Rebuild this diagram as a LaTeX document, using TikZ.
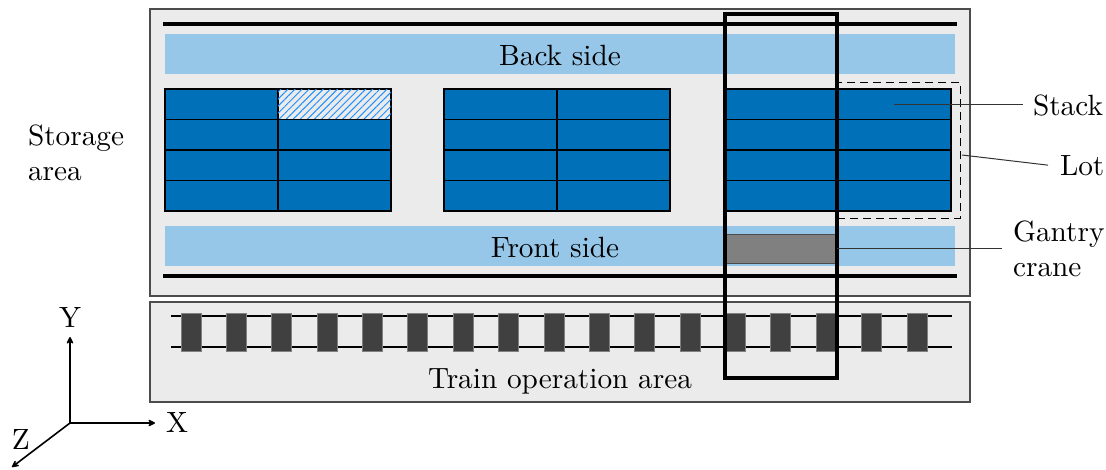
\documentclass[tikz,border=0pt]{standalone}
\usepackage{fontspec}
\setmainfont{lmroman10-regular.otf}
\usetikzlibrary{patterns.meta,arrows.meta}
\definecolor{boxgray}{HTML}{EBEBEB}
\definecolor{band}{HTML}{96C6E8}
\definecolor{stackblue}{HTML}{0070B8}
\definecolor{hatch}{HTML}{1E90FF}
\definecolor{sleeper}{HTML}{404040}
\definecolor{cranegray}{HTML}{808080}
\tikzset{
  every node/.style={outer sep=0pt},
  lbl/.style={font=\fontsize{29.3}{35.3}\selectfont, inner sep=0pt, text=black},
  area/.style={draw=black!70, fill=boxgray, line width=1.1pt, anchor=north west, inner sep=0pt},
  bandbox/.style={fill=band, anchor=north west, inner sep=0pt, minimum width=790pt, minimum height=40pt},
  cell/.style={draw=black, fill=stackblue, line width=1.1pt, anchor=north west, inner sep=0pt, minimum width=113pt, minimum height=30.5pt},
  hatchcell/.style={cell, fill=boxgray, postaction={pattern={Lines[angle=45,distance=5pt,line width=1pt]}, pattern color=hatch}},
  sleeperbox/.style={fill=sleeper, draw=black!50, line width=0.8pt, anchor=north west, inner sep=0pt, minimum width=20pt, minimum height=38pt},
  thickline/.style={line width=4pt},
  rail/.style={line width=1.8pt},
  leader/.style={line width=1pt, draw=black!80},
  axis/.style={-{Stealth[length=9pt,width=9pt,inset=3.5pt,round]}, line width=1.6pt},
}
\begin{document}
\begin{tikzpicture}[x=1pt,y=-1pt]
\useasboundingbox (0,0) rectangle (1106,469);
% areas
\node[area, minimum width=820pt, minimum height=287pt] (storage) at (150,9) {};
\node[area, minimum width=820pt, minimum height=100pt] (train) at (150,302) {};
% bands
\node[bandbox] (back) at (165,34) {};
\node[bandbox] (front) at (165,226) {};
\node[lbl, anchor=base] (backlbl) at (560,65) {Back side};
\node[lbl, anchor=base] (frontlbl) at (555,257) {Front side};
% thick crane rails
\coordinate (tl) at (163,24); \coordinate (tr) at (957,24);
\coordinate (bl) at (163,276); \coordinate (br) at (957,276);
\draw[thickline] (tl) -- (tr);
\draw[thickline] (bl) -- (br);
% stacks
\foreach \gx [count=\g] in {165,444,725}{
  \foreach \c in {0,1}{
    \foreach \r in {0,...,3}{
      \ifnum\g\c\r=110 \def\cs{hatchcell}\else\def\cs{cell}\fi
      \node[\cs] (c\g\c\r) at (\gx+\c*113, 89+\r*30.5) {};
    }
  }
}
% lot
\node[draw, dashed, line width=1pt, dash pattern=on 8pt off 5pt, anchor=north west, inner sep=0pt, minimum width=123pt, minimum height=136pt] (lot) at (837,82) {};
% train tracks
\coordinate (r1a) at (171,316); \coordinate (r1b) at (952,316);
\coordinate (r2a) at (171,347); \coordinate (r2b) at (952,347);
\draw[rail] (r1a) -- (r1b);
\draw[rail] (r2a) -- (r2b);
\foreach \i in {0,...,16}{
  \node[sleeperbox] (s\i) at (181+\i*45.375, 313) {};
}
\node[lbl, anchor=base] (trainlbl) at (560,388) {Train operation area};
% gantry crane
\node[fill=cranegray, draw=black!70, line width=1pt, anchor=north west, inner sep=0pt, minimum width=113pt, minimum height=29pt] (crane) at (724,234) {};
\node[draw=black, line width=4pt, anchor=north west, inner sep=0pt, minimum width=112.3pt, minimum height=363.5pt] (frame) at (724.7,14) {};
% labels and leaders
\node[lbl, anchor=north west, align=left] (storagelbl) at (28,125) {Storage\\area};
\node[lbl, anchor=base west] (stacklbl) at (1033,115) {Stack};
\node[lbl, anchor=base west] (lotlbl) at (1060,175) {Lot};
\node[lbl, anchor=north west, align=left] (cranelbl) at (1013,221) {Gantry\\crane};
\coordinate (stackpt) at (894,104);
\coordinate (lotpt) at (962,155);
\draw[leader] (stackpt |- stacklbl.west) -- ([xshift=-10pt]stacklbl.west);
\draw[leader] (lotpt) -- ([xshift=-12pt]lotlbl.west);
\draw[leader] (crane.east) -- ([xshift=-11pt]crane.east -| cranelbl.west);
% axes
\coordinate (o) at (70,423);
\coordinate (ytip) at (70,337);
\coordinate (xtip) at (155,423);
\coordinate (ztip) at (12,467);
\draw[axis] (o) -- (ytip);
\draw[axis] (o) -- (xtip);
\draw[axis] (o) -- (ztip);
\node[lbl, anchor=base west] (ylbl) at (59,327) {Y};
\node[lbl, anchor=base west] (xlbl) at (166,432) {X};
\node[lbl, anchor=base west] (zlbl) at (12,449) {Z};
\end{tikzpicture}
\end{document}
